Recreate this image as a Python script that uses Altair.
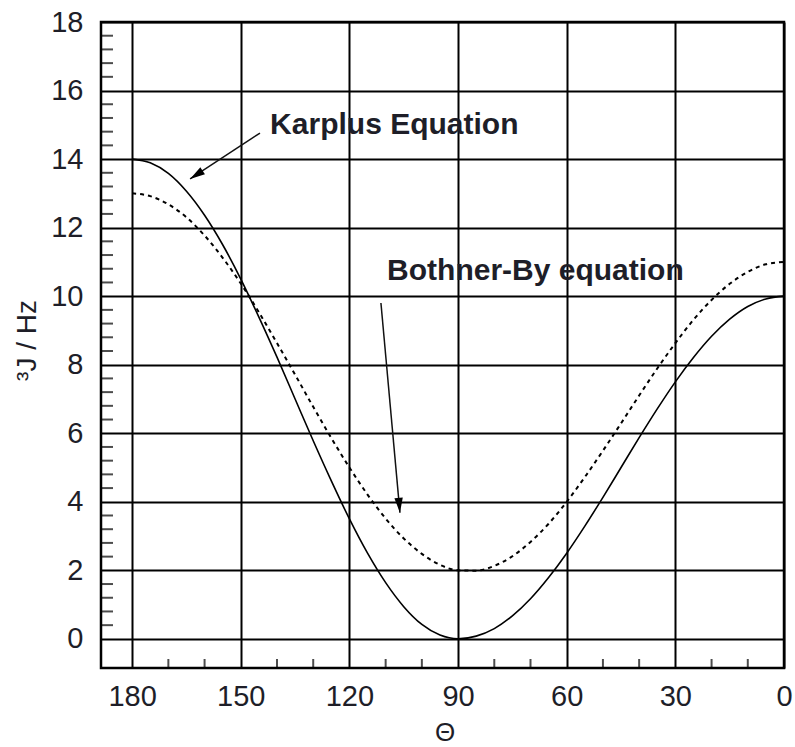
import altair as alt
import pandas as pd

# dihedral angle (degrees)
theta_deg = list(range(0, 181, 5))
# Karplus equation curve, 3J in Hz
karplus_hz = [10.0, 9.92, 9.70, 9.33, 8.83, 8.21, 7.50, 6.71, 5.87, 5.00, 4.13, 3.29, 2.50,
              1.79, 1.17, 0.67, 0.30, 0.08, 0.0, 0.11, 0.42, 0.94, 1.64, 2.50, 3.50, 4.61,
              5.78, 7.00, 8.22, 9.39, 10.50, 11.50, 12.36, 13.06, 13.58, 13.89, 14.0]
# Bothner-By equation curve, 3J in Hz
bothner_hz = [11.0, 10.93, 10.71, 10.36, 9.89, 9.31, 8.63, 7.89, 7.10, 6.29, 5.49, 4.72, 4.00,
              3.36, 2.83, 2.41, 2.13, 1.99, 2.00, 2.16, 2.48, 2.93, 3.51, 4.21, 5.00, 5.86,
              6.77, 7.71, 8.63, 9.53, 10.37, 11.12, 11.77, 12.30, 12.68, 12.92, 13.0]

x_major = [180, 150, 120, 90, 60, 30, 0]
x_minor = [170, 160, 140, 130, 110, 100, 80, 70, 50, 40, 20, 10]
y_major = [0, 2, 4, 6, 8, 10, 12, 14, 16, 18]
y_minor = [round(0.4 * i, 1) for i in range(1, 45) if i % 5 != 0]

label_text = ["Karplus Equation", "Bothner-By equation"]
label_theta = [141.9, 109.6]
label_j = [14.98, 10.74]
arrow_tail_theta = [144.7, 111.3]
arrow_tail_j = [14.76, 9.80]
arrow_tip_theta = [164.0, 106.05]
arrow_tip_j = [13.42, 3.68]
arrow_angle = [236.7, 174.8]

FONT = "Liberation Sans"
TXT = "#1e1e28"

curves = pd.DataFrame({"theta": theta_deg, "karplus": karplus_hz, "bothner": bothner_hz})
labels = pd.DataFrame({"theta": label_theta, "j": label_j, "text": label_text})
arrows = pd.DataFrame({"t0": arrow_tail_theta, "j0": arrow_tail_j,
                       "t1": arrow_tip_theta, "j1": arrow_tip_j, "ang": arrow_angle})

xs = alt.Scale(domain=[188.6, 0], nice=False, zero=False)
ys = alt.Scale(domain=[-0.85, 18], nice=False, zero=False)

x_axis = alt.Axis(values=x_major, format="d", labelFontSize=29, labelFont=FONT,
                  labelColor=TXT, labelPadding=14, ticks=False, tickSize=0, domain=False,
                  grid=True, gridColor="black", gridWidth=2, gridOpacity=1,
                  labelFlush=False, labelOverlap=False,
                  title="Θ", titleFont=FONT, titleFontSize=26, titleFontWeight="normal",
                  titleColor=TXT, titleX=343.5, titleY=64, titleBaseline="middle",
                  titleAlign="center")
y_axis = alt.Axis(values=y_major, format="d", labelFontSize=29, labelFont=FONT,
                  labelColor=TXT, labelPadding=18, ticks=False, tickSize=0, domain=False,
                  grid=True, gridColor="black", gridWidth=2, gridOpacity=1,
                  labelFlush=False, labelOverlap=False,
                  title="³J / Hz", titleFont=FONT, titleFontSize=28, titleFontWeight="normal",
                  titleColor=TXT, titleX=-74, titleY=318, titleAngle=270,
                  titleAlign="center", titleBaseline="middle")


def X(field):
    return alt.X(field, scale=xs, axis=x_axis, title="Θ")


def Y(field):
    return alt.Y(field, scale=ys, axis=y_axis, title="³J / Hz")


base = alt.Chart(curves)
karplus = base.mark_line(color="black", strokeWidth=1.6, interpolate="monotone").encode(
    x=X("theta:Q"), y=Y("karplus:Q"))
bothner = base.mark_line(color="black", strokeWidth=2, strokeDash=[4, 4],
                         interpolate="monotone").encode(
    x=X("theta:Q"), y=Y("bothner:Q"))

ytick = alt.Chart(pd.DataFrame({"v": y_minor})).mark_tick(
    orient="horizontal", size=12, thickness=2, color="black").encode(
    y=Y("v:Q"), x=alt.value(6))
xtick = alt.Chart(pd.DataFrame({"v": x_minor})).mark_tick(
    orient="vertical", size=9, thickness=2, color="black").encode(
    x=X("v:Q"), y=alt.value(641.5))

shafts = alt.Chart(arrows).mark_rule(color="#111", strokeWidth=1.5).encode(
    x=X("t0:Q"), y=Y("j0:Q"), x2="t1:Q", y2="j1:Q")
heads = alt.Chart(arrows).mark_point(shape="M0,0L-0.28,1L0.28,1Z", filled=True, size=900,
                                     color="black", opacity=1, strokeWidth=0).encode(
    x=X("t1:Q"), y=Y("j1:Q"), angle=alt.Angle("ang:Q", scale=None))

texts = alt.Chart(labels).mark_text(align="left", baseline="middle", fontSize=30,
                                    fontWeight="bold", font=FONT, color=TXT).encode(
    x=X("theta:Q"), y=Y("j:Q"), text="text:N")

chart = alt.layer(karplus, bothner, ytick, xtick, shafts, heads, texts).properties(
    width=683, height=646,
    autosize=alt.AutoSizeParams(type="none"),
    padding={"left": 101, "top": 22, "right": 11, "bottom": 79},
    background="white",
).configure_view(stroke="black", strokeWidth=2.5)

chart.save("out.html", embed_options={"renderer": "svg", "actions": False})
